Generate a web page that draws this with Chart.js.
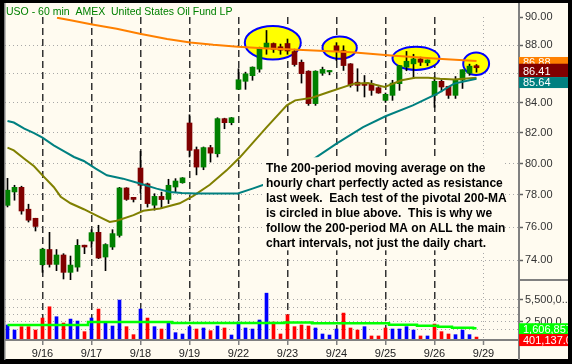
<!DOCTYPE html>
<html><head><meta charset="utf-8">
<script src="https://cdn.jsdelivr.net/npm/chart.js@4.4.1/dist/chart.umd.min.js"></script>
<style>html,body{margin:0;padding:0;background:#000;}canvas{display:block;}</style>
</head><body>
<canvas id="c" width="572" height="364"></canvas>
<script>
// ---------- data ----------
const title = 'USO - 60 min  AMEX  United States Oil Fund LP';
const dayTicks = [5, 12, 19, 26, 33, 40, 47, 54, 61, 68];
const dayLabels = ['9/16', '9/17', '9/18', '9/19', '9/22', '9/23', '9/24', '9/25', '9/26', '9/29'];
const priceTicks = [74, 76, 78, 80, 82, 84, 86, 88, 90];
const volumeTicksM = [1.5, 2.5, 3.5, 4.5, 5.5];
const volumeLabelTicksM = [2.5, 5.5];

const opens = [77.35,78.19,78.48,77.11,76.55,73.74,74.65,73.76,74.32,73.29,
  73.60,74.91,75.16,75.69,74.20,74.80,75.50,78.44,77.85,79.71,
  78.70,77.36,77.91,77.72,78.50,78.77,82.65,80.90,79.77,81.03,
  80.63,82.94,82.67,84.92,85.47,85.86,86.31,87.83,88.11,87.88,
  88.11,87.54,86.79,86.17,83.95,86.03,86.12,87.95,87.60,86.68,
  85.41,85.34,85.31,85.03,84.17,84.51,85.31,86.45,86.68,87.02,
  86.75,84.51,85.47,85.13,84.51,85.55,86.03,86.55];
const highs = [79.05,78.61,78.55,77.42,76.55,74.73,75.69,74.65,74.40,74.26,
  75.25,74.91,75.85,76.12,75.00,75.85,78.48,78.46,77.85,80.79,
  78.75,78.08,78.18,78.99,79.03,79.10,83.20,81.07,81.07,81.18,
  83.00,82.97,83.02,86.34,86.10,86.47,87.85,89.04,88.15,88.07,
  88.43,87.71,86.95,86.20,86.20,86.45,86.22,88.17,87.95,86.70,
  86.34,85.87,85.53,85.10,84.67,85.54,86.56,87.55,87.35,87.15,
  86.95,85.77,85.59,85.13,85.80,86.27,86.66,86.63];
const lows = [77.25,77.67,76.80,76.32,75.77,73.29,73.60,73.39,72.90,72.85,
  73.35,74.40,74.77,74.10,73.39,74.65,75.40,77.66,77.56,78.12,
  77.24,77.05,77.15,77.46,78.18,78.74,80.42,79.27,79.60,80.09,
  80.42,82.27,82.53,84.90,84.92,85.54,86.10,87.35,87.48,87.35,
  87.35,86.52,85.35,83.83,83.83,85.88,85.92,86.90,86.22,85.07,
  84.79,84.40,84.51,84.65,84.03,84.17,84.85,86.20,85.65,86.56,
  86.56,83.70,84.75,84.30,84.30,84.98,85.88,86.10];
const closes = [78.30,78.48,77.00,76.43,76.05,74.67,73.76,74.32,73.29,73.72,
  74.90,74.80,75.67,74.14,74.95,75.61,78.44,77.72,77.72,78.61,
  77.46,77.91,77.71,78.61,78.88,79.08,80.85,79.77,81.03,80.67,
  82.94,82.67,83.00,85.58,85.99,86.45,87.83,88.14,87.70,87.64,
  87.58,86.63,86.00,83.95,86.17,86.29,86.22,87.60,86.56,85.19,
  85.19,85.19,84.85,84.67,84.58,85.35,86.56,86.86,87.02,86.79,
  86.95,85.47,85.08,84.51,85.59,86.27,86.52,86.41];

// volume in millions of shares; 1 = up bar (blue), 0 = down bar (red)
const volumeM = [2.05,1.36,1.82,1.82,1.36,3.00,4.54,3.18,2.32,2.86,
  2.59,1.14,3.00,4.23,2.50,1.91,5.46,1.82,0.73,4.23,
  3.00,1.82,1.50,2.45,1.00,0.82,1.82,1.50,1.64,1.27,
  1.91,1.64,0.68,2.45,1.64,1.50,2.73,6.40,2.45,0.82,
  3.45,1.82,2.05,1.91,1.64,0.82,0.68,1.50,3.68,1.64,
  1.36,1.82,0.55,0.55,1.64,1.50,1.50,1.82,1.36,0.55,
  0.55,2.18,1.14,0.82,0.73,1.36,0.73,0.401137];
const volumeUp = [1,1,0,0,0,0,0,1,0,1, 1,0,1,0,1,1,1,0,0,1, 0,1,0,1,1,1,1,0,1,0,
  1,0,1,1,1,1,1,1,0,0, 0,0,0,0,1,1,1,1,0,0, 0,1,0,0,0,1,1,1,1,0, 1,0,0,0,1,1,1,0];
const volumeMA_M = [2.05,2.05,2.05,2.05,2.05,2.05,2.05,2.05,2.05,2.05,2.05,2.05,
  2.45,2.45,2.45,2.45,2.45,2.45,2.45,2.45,2.45,2.45,2.45,2.45,
  2.32,2.32,2.32,2.32,2.32,2.32,2.32,2.32,2.32,2.32,2.32,2.32,2.32,2.32,2.32,2.32,
  2.40,2.40,2.40,2.40,
  2.28,2.28,2.28,2.28,2.28,2.28,2.28,2.28,2.28,2.28,2.28,
  2.10,2.10,2.10,2.10, 1.95,1.95,1.95, 1.81,1.81, 1.66,1.66,1.66,1.606857];

// moving averages, read at bar positions
const ma200Bars = [7.07,9.2,12.1,15.6,18.9,22.8,26.1,29.4,32.9,37.1,39.9,49.2,54.8,61.5,67];
const ma200 = [89.96,89.76,89.47,89.16,88.80,88.43,88.19,88.02,87.88,87.76,87.71,87.49,87.26,87.03,86.88];
const ma50Bars = [0,0.9,2.4,3.8,5.0,6.6,8.1,9.5,10.9,12.6,14.2,16.5,18.9,21.3,23.2,24.9,26.9,32.9,35.0,37.2,43.6,47.0,50.8,54.0,57.9,61.4,63.8,67];
const ma50 = [82.78,82.68,82.27,81.98,81.68,81.18,80.79,80.42,80.16,79.67,79.24,79.03,78.72,78.40,78.19,78.12,78.09,78.09,78.40,78.74,80.25,81.29,82.38,83.10,83.83,84.63,85.31,85.64];
const ma20Bars = [0,0.9,2.4,3.8,5.0,6.6,7.6,9.0,10.9,12.6,14.6,15.6,18.0,19.4,21.8,24.6,26.5,28.9,31.3,33.2,37.0,39.9,41.1,43.5,45.9,49.5,51.5,53.9,56.3,58.2,60.1,61.8,63.8,67];
const ma20 = [81.03,80.85,80.31,79.82,79.24,78.50,77.89,77.48,77.11,76.74,76.32,76.40,76.74,77.01,77.16,77.48,77.93,78.64,79.56,80.40,82.36,83.83,84.17,84.35,84.74,85.31,85.35,85.08,85.54,85.72,85.72,85.65,85.59,85.72];

// annotations in data units: [fromBar, toBar, topPrice, bottomPrice]
const ellipses = [[33.9,41.9,89.36,86.98],[45.0,49.9,88.60,87.03],[55.0,61.7,87.88,86.26],[65.1,68.8,87.47,85.91]];
const noteBox = [36.5, 71.07, 80.4, 74.6];
const noteLines = [
  'The 200-period moving average on the',
  'hourly chart perfectly acted as resistance',
  'last week.  Each test of the pivotal 200-MA',
  'is circled in blue above.  This is why we',
  'follow the 200-period MA on ALL the main',
  'chart intervals, not just the daily chart.'
];

// ---------- chart ----------
const BG = '#FFFBF0';
const FONT = "'Liberation Sans', Arial, Helvetica, sans-serif";
Chart.defaults.font.family = FONT;
Chart.defaults.font.size = 11;

const bars = opens.map((_, i) => i);
const fmt = (v, d) => v.toLocaleString('en-US', {minimumFractionDigits: d, maximumFractionDigits: d});

const overlay = {
  id: 'overlay',
  beforeDraw(chart) {
    const c = chart.ctx;
    c.save();
    c.fillStyle = '#000'; c.fillRect(0, 0, chart.width, chart.height);
    c.fillStyle = BG; c.fillRect(4, 3, chart.width - 8, chart.height - 8);
    c.restore();
  },
  beforeDatasetsDraw(chart) {
    const c = chart.ctx, xs = chart.scales.x, ys = chart.scales.y;
    c.save();
    for (const [a, b, top, bot] of ellipses) {
      const x1 = xs.getPixelForValue(a), x2 = xs.getPixelForValue(b);
      const y1 = ys.getPixelForValue(top), y2 = ys.getPixelForValue(bot);
      c.beginPath();
      c.ellipse((x1 + x2) / 2, (y1 + y2) / 2, (x2 - x1) / 2, (y2 - y1) / 2, 0, 0, Math.PI * 2);
      c.fillStyle = '#FFFF00'; c.fill();
      c.lineWidth = 2; c.strokeStyle = '#0000FF'; c.stroke();
    }
    c.restore();
  },
  afterDatasetsDraw(chart) {
    const c = chart.ctx, xs = chart.scales.x, ys = chart.scales.y;
    const [a, b, top, bot] = noteBox;
    const x1 = xs.getPixelForValue(a), x2 = xs.getPixelForValue(b);
    const y1 = ys.getPixelForValue(top), y2 = ys.getPixelForValue(bot);
    c.save();
    c.fillStyle = BG; c.fillRect(x1, y1, x2 - x1, y2 - y1);
    c.fillStyle = '#000'; c.font = 'bold 12px ' + FONT; c.textBaseline = 'alphabetic';
    noteLines.forEach((t, k) => c.fillText(t, x1 + 3, y1 + 15 + 15 * k));
    c.restore();
  },
  afterDraw(chart) {
    const c = chart.ctx, ys = chart.scales.y, yv = chart.scales.yv;
    const ca = chart.chartArea;
    c.save();
    c.fillStyle = '#808080';
    c.fillRect(4, 3, 1.5, 357);
    c.fillRect(ca.right, 3, 2, 357);
    c.fillRect(4, ca.bottom - 1, ca.right - 4, 2);
    c.fillRect(ca.right, ys.bottom - 1, 568 - ca.right, 2);
    c.font = '10.5px ' + FONT; c.fillStyle = '#008000'; c.textBaseline = 'alphabetic';
    c.fillText(title, 6, 15);
    // value boxes on the right axis
    c.beginPath(); c.rect(ca.right, 3, 568 - ca.right, 357); c.clip();
    const last = opens.length - 1;
    const boxes = [
      {v: ma200[ma200.length - 1], text: ma200[ma200.length - 1].toFixed(2), color: '#FF8000', s: ys, dy: -4, h: 12},
      {v: closes[last], text: closes[last].toFixed(2), color: '#800000', s: ys, dy: -4, h: 13.4},
      {v: ma50[ma50.length - 1], text: ma50[ma50.length - 1].toFixed(2), color: '#008080', s: ys, dy: -1.8, h: 11},
      {v: volumeMA_M[last], text: fmt(volumeMA_M[last] * 1e6, 0), color: '#00FF00', s: yv, dy: -5, h: 12},
      {v: volumeM[last], text: fmt(volumeM[last] * 1e6, 1), color: '#FF0000', s: yv, dy: -3, h: 12}
    ];
    for (const b of boxes) {
      const top = b.s.getPixelForValue(b.v) + b.dy;
      c.fillStyle = b.color; c.fillRect(ca.right + 1, top, 568 - ca.right, b.h);
      c.fillStyle = '#FFFFFF'; c.font = '11px ' + FONT;
      c.fillText(b.text, ca.right + 5, top + b.h - 2.5);
    }
    c.restore();
  }
};

new Chart(document.getElementById('c'), {
  type: 'line',
  data: {
    datasets: [
      {type: 'line', label: '200 MA', yAxisID: 'y', order: 1,
       data: ma200Bars.map((x, k) => ({x, y: ma200[k]})),
       borderColor: '#FF8000', borderWidth: 2, pointRadius: 0, tension: 0},
      {type: 'line', label: '50 MA', yAxisID: 'y', order: 2,
       data: ma50Bars.map((x, k) => ({x, y: ma50[k]})),
       borderColor: '#008080', borderWidth: 2, pointRadius: 0, tension: 0},
      {type: 'line', label: '20 MA', yAxisID: 'y', order: 3,
       data: ma20Bars.map((x, k) => ({x, y: ma20[k]})),
       borderColor: '#808000', borderWidth: 2, pointRadius: 0, tension: 0},
      {type: 'bar', label: 'body', yAxisID: 'y', order: 9, grouped: false,
       data: bars.map(i => ({x: i, y: [opens[i], closes[i]]})),
       backgroundColor: ctx => closes[ctx.dataIndex] >= opens[ctx.dataIndex] ? '#008000' : '#800000',
       barThickness: 5, minBarLength: 1, borderWidth: 0},
      {type: 'bar', label: 'wick', yAxisID: 'y', order: 10, grouped: false,
       data: bars.map(i => ({x: i, y: [lows[i], highs[i]]})),
       backgroundColor: '#000000', barThickness: 1, minBarLength: 1, borderWidth: 0},
      {type: 'bar', label: 'volume', yAxisID: 'yv', order: 9, grouped: false,
       data: bars.map(i => ({x: i, y: volumeM[i]})),
       backgroundColor: ctx => volumeUp[ctx.dataIndex] ? '#0000FF' : '#FF0000',
       barThickness: 3, borderWidth: 0},
      {type: 'line', label: 'volume MA', yAxisID: 'yv', order: 1,
       data: bars.map(i => ({x: i, y: volumeMA_M[i]})),
       borderColor: '#00FF00', borderWidth: 2.5, pointRadius: 0, stepped: 'middle'}
    ]
  },
  options: {
    responsive: false, animation: false, devicePixelRatio: 1, events: [],
    layout: {padding: {left: 5, top: 17, right: 4, bottom: 4}},
    plugins: {legend: {display: false}, tooltip: {enabled: false}},
    scales: {
      x: {
        type: 'linear', min: -0.3571, max: 72.9286, offset: false,
        afterBuildTicks: s => { s.ticks = dayTicks.map(v => ({value: v})); },
        afterFit: s => { s.height = 20; },
        ticks: {autoSkip: false, maxRotation: 0, padding: 2, color: '#222',
          callback: v => { const k = dayTicks.indexOf(v); return k >= 0 ? dayLabels[k] : ''; }},
        grid: {offset: false,
          color: ctx => (ctx.tick && ctx.tick.value === 68) ? '#A8A8A8' : '#333333',
          lineWidth: ctx => (ctx.tick && ctx.tick.value === 68) ? 1 : 1.5,
          tickLength: 5, tickColor: '#808080', tickWidth: 1.5, tickBorderDash: []},
        border: {display: false, dash: ctx => (ctx.tick && ctx.tick.value === 68) ? [1, 3] : [7, 4]}
      },
      y: {
        type: 'logarithmic', position: 'right', stack: 'panels', stackWeight: 263,
        min: 72.84, max: 90.01,
        afterBuildTicks: s => { s.ticks = priceTicks.map(v => ({value: v})); },
        afterFit: s => { s.width = 50; },
        ticks: {autoSkip: false, padding: 2, color: '#333', callback: v => Number(v).toFixed(2)},
        grid: {color: ctx => (ctx.tick && ctx.tick.value === 90) ? 'rgba(0,0,0,0)' : '#A8A8A8',
          lineWidth: 1, tickLength: 5, tickColor: '#606060', tickWidth: 1.5, tickBorderDash: []},
        border: {display: false, dash: [1, 3]}
      },
      yv: {
        type: 'linear', position: 'right', stack: 'panels', stackWeight: 60,
        min: 0, max: 8.2,
        afterBuildTicks: s => { s.ticks = volumeTicksM.map(v => ({value: v})); },
        afterFit: s => { s.width = 50; },
        ticks: {autoSkip: false, padding: 2, color: '#333',
          callback: v => volumeLabelTicksM.includes(v) ? fmt(v * 1e6, 0).slice(0, 7) + '...' : ''},
        grid: {color: '#A8A8A8', lineWidth: 1, tickLength: 5, tickWidth: 1.5, tickBorderDash: [],
          tickColor: ctx => (ctx.tick && volumeLabelTicksM.includes(ctx.tick.value)) ? '#606060' : 'rgba(0,0,0,0)'},
        border: {display: false, dash: [1, 3]}
      }
    }
  },
  plugins: [overlay]
});
</script>
</body></html>
